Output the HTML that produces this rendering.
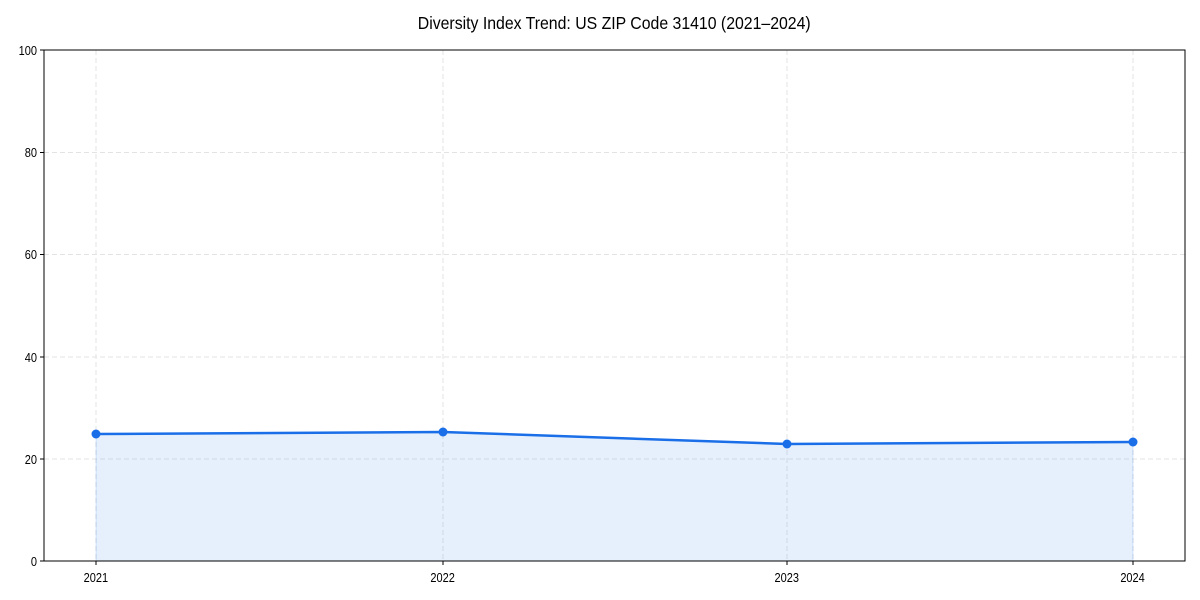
<!DOCTYPE html>
<html><head><style>body{margin:0;background:#fff}svg{display:block}text{font-family:"Liberation Sans",sans-serif;fill:#000}</style></head><body>
<svg width="1200" height="600" viewBox="0 0 1200 600">
<rect width="1200" height="600" fill="#fff"/>
<g stroke="#e3e3e3" stroke-width="1" stroke-dasharray="5,3">
<line x1="44" x2="1185" y1="459" y2="459"/><line x1="44" x2="1185" y1="357" y2="357"/><line x1="44" x2="1185" y1="254.5" y2="254.5"/><line x1="44" x2="1185" y1="152.5" y2="152.5"/>
<line x1="96" x2="96" y1="50" y2="561"/><line x1="443" x2="443" y1="50" y2="561"/><line x1="787" x2="787" y1="50" y2="561"/><line x1="1133" x2="1133" y1="50" y2="561"/>
</g>
<polygon points="96,434 443,432 787,444 1133,442 1133,561 96,561" fill="#1a73e8" fill-opacity="0.11" stroke="#1a73e8" stroke-opacity="0.15"/>
<polyline points="96,434 443,432 787,444 1133,442" fill="none" stroke="#1a6ee8" stroke-width="2.5"/>
<g fill="#1a6ee8"><circle cx="96" cy="434" r="4.5"/><circle cx="443" cy="432" r="4.5"/><circle cx="787" cy="444" r="4.5"/><circle cx="1133" cy="442" r="4.5"/></g>
<rect x="44" y="50" width="1141" height="511" fill="none" stroke="#000" stroke-width="1"/>
<g stroke="#000"><line x1="40" x2="44" y1="561" y2="561"/><line x1="40" x2="44" y1="459" y2="459"/><line x1="40" x2="44" y1="357" y2="357"/><line x1="40" x2="44" y1="254.5" y2="254.5"/><line x1="40" x2="44" y1="152.5" y2="152.5"/><line x1="40" x2="44" y1="50" y2="50"/>
<line x1="96" x2="96" y1="561" y2="565"/><line x1="443" x2="443" y1="561" y2="565"/><line x1="787" x2="787" y1="561" y2="565"/><line x1="1133" x2="1133" y1="561" y2="565"/></g>
<g font-size="12.5" text-anchor="end" transform="scale(0.88,1)">
<text x="42" y="566">0</text><text x="42" y="464">20</text><text x="42" y="362">40</text><text x="42" y="259">60</text><text x="42" y="157">80</text><text x="42" y="55">100</text>
</g>
<g font-size="12.5" text-anchor="middle" transform="scale(0.88,1)">
<text x="109" y="582">2021</text><text x="503" y="582">2022</text><text x="894" y="582">2023</text><text x="1287" y="582">2024</text>
</g>
<text x="698" y="29" font-size="18" text-anchor="middle" transform="scale(0.88,1)">Diversity Index Trend: US ZIP Code 31410 (2021–2024)</text>
</svg>
</body></html>
